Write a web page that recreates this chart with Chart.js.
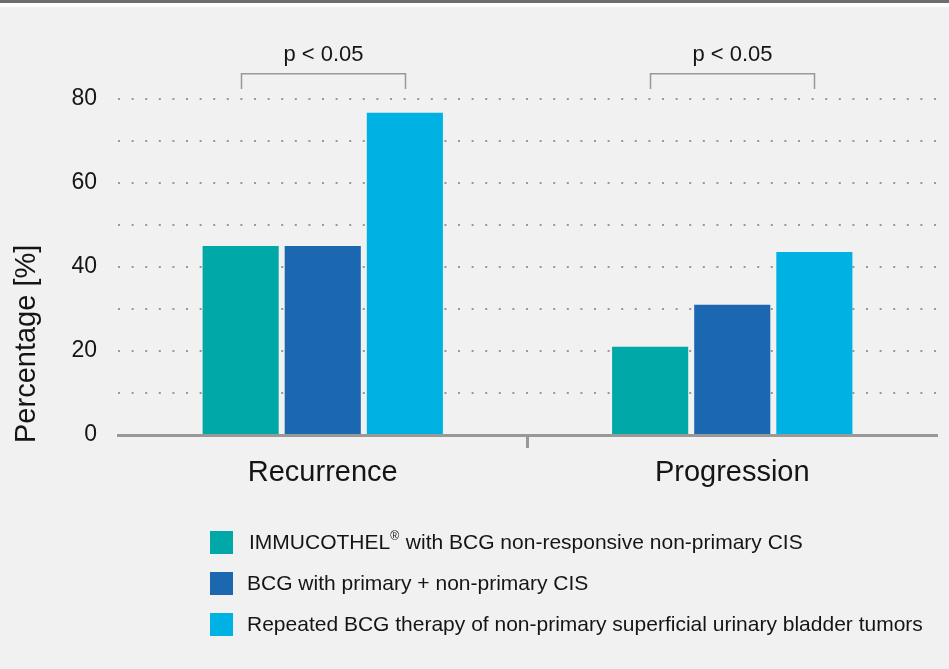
<!DOCTYPE html>
<html>
<head>
<meta charset="utf-8">
<script src="https://cdn.jsdelivr.net/npm/chart.js@4/dist/chart.umd.min.js"></script>
<style>
  html, body { margin: 0; padding: 0; background: #f1f1f1; }
  canvas { display: block; }
</style>
</head>
<body>
<canvas id="c" width="949" height="669"></canvas>
<script>
// ---- Data ----
const categories = ['Recurrence', 'Progression'];
const seriesLabels = [
  'IMMUCOTHEL® with BCG non-responsive non-primary CIS',
  'BCG with primary + non-primary CIS',
  'Repeated BCG therapy of non-primary superficial urinary bladder tumors'
];
const immucothelValues = [45, 21];
const bcgPrimaryValues = [45, 31];
const repeatedBcgValues = [76.7, 43.6];
const yTickLabels = [0, 20, 40, 60, 80];
const pValueLabels = ['p < 0.05', 'p < 0.05'];
const yAxisTitle = 'Percentage [%]';

const seriesColors = ['#00a8a8', '#1b67b0', '#00b2e3'];
const FONT = '"Liberation Sans", Arial, Helvetica, sans-serif';
const TEXT = '#151515';
const GRAY = '#999999';

const decorPlugin = {
  id: 'decor',
  beforeDraw(chart) {
    const ctx = chart.ctx;
    ctx.save();
    ctx.fillStyle = '#f1f1f1';
    ctx.fillRect(0, 0, chart.width, chart.height);
    ctx.fillStyle = '#6e6e6e';
    ctx.fillRect(0, 0, chart.width, 3);
    ctx.fillStyle = '#ffffff';
    ctx.fillRect(0, 3, chart.width, 4);
    ctx.restore();
  },
  afterDraw(chart) {
    const ctx = chart.ctx;
    const y = chart.scales.y;
    const area = chart.chartArea;
    ctx.save();
    // y axis title
    ctx.fillStyle = TEXT;
    ctx.font = '29px ' + FONT;
    ctx.translate(27, area.bottom + 8);
    ctx.rotate(-Math.PI / 2);
    ctx.textAlign = 'left';
    ctx.textBaseline = 'middle';
    ctx.fillText(yAxisTitle, 0, 0);
    ctx.restore();

    // significance brackets
    const m0 = chart.getDatasetMeta(0), m2 = chart.getDatasetMeta(2);
    ctx.save();
    ctx.strokeStyle = GRAY;
    ctx.lineWidth = 1.5;
    const yTop = y.getPixelForValue(86);
    const yLeg = y.getPixelForValue(82.4);
    categories.forEach((c, i) => {
      const x1 = Math.round(m0.data[i].x) + 0.5;
      const x2 = Math.round(m2.data[i].x) + 0.5;
      ctx.beginPath();
      ctx.moveTo(x1, yLeg);
      ctx.lineTo(x1, yTop);
      ctx.lineTo(x2, yTop);
      ctx.lineTo(x2, yLeg);
      ctx.stroke();
      ctx.fillStyle = TEXT;
      ctx.font = '22px ' + FONT;
      ctx.textAlign = 'center';
      ctx.textBaseline = 'alphabetic';
      ctx.fillText(pValueLabels[i], (x1 + x2) / 2, y.getPixelForValue(89));
    });
    ctx.restore();

    // legend
    ctx.save();
    chart.data.datasets.forEach((ds, i) => {
      const by = 531 + i * 41;
      ctx.fillStyle = ds.backgroundColor;
      ctx.fillRect(210, by, 23, 23);
      ctx.fillStyle = TEXT;
      ctx.textAlign = 'left';
      ctx.textBaseline = 'middle';
      const cy = by + 12;
      let x = i === 0 ? 249 : 247;
      const parts = ds.label.split('®');
      parts.forEach((p, k) => {
        ctx.font = '21px ' + FONT;
        ctx.fillText(p, x, cy);
        x += ctx.measureText(p).width;
        if (k < parts.length - 1) {
          ctx.font = '12px ' + FONT;
          ctx.fillText('®', x, cy - 6);
          x += ctx.measureText('®').width + 1;
        }
      });
    });
    ctx.restore();
  }
};

const datasetsData = [immucothelValues, bcgPrimaryValues, repeatedBcgValues];

new Chart(document.getElementById('c'), {
  type: 'bar',
  data: {
    labels: categories,
    datasets: datasetsData.map((d, i) => ({
      label: seriesLabels[i],
      data: d,
      backgroundColor: seriesColors[i],
      borderWidth: 0,
      categoryPercentage: 0.6015,
      barPercentage: 0.927
    }))
  },
  options: {
    responsive: false,
    animation: false,
    events: [],
    layout: { padding: { top: 99, right: 12, left: 0, bottom: 174 } },
    plugins: { legend: { display: false }, tooltip: { enabled: false } },
    scales: {
      x: {
        afterFit(s) { s.height = 60; },
        grid: {
          display: true,
          drawOnChartArea: false,
          drawTicks: true,
          offset: true,
          tickLength: 13,
          tickWidth: 3,
          tickColor: (c) => (c.index === 1 ? GRAY : 'rgba(0,0,0,0)')
        },
        border: { display: true, color: GRAY, width: 3 },
        ticks: {
          color: TEXT,
          padding: 8,
          font: { family: FONT, size: 29, lineHeight: 1.2 }
        }
      },
      y: {
        min: 0,
        max: 80,
        afterFit(s) { s.width = 118; },
        grid: { color: GRAY, lineWidth: 2, drawTicks: false },
        border: { display: false, dash: [2, 11.6] },
        ticks: {
          stepSize: 10,
          padding: 21,
          color: TEXT,
          font: { family: FONT, size: 23 },
          callback: (v) => (yTickLabels.includes(v) ? String(v) : '')
        }
      }
    }
  },
  plugins: [decorPlugin]
});
</script>
</body>
</html>
